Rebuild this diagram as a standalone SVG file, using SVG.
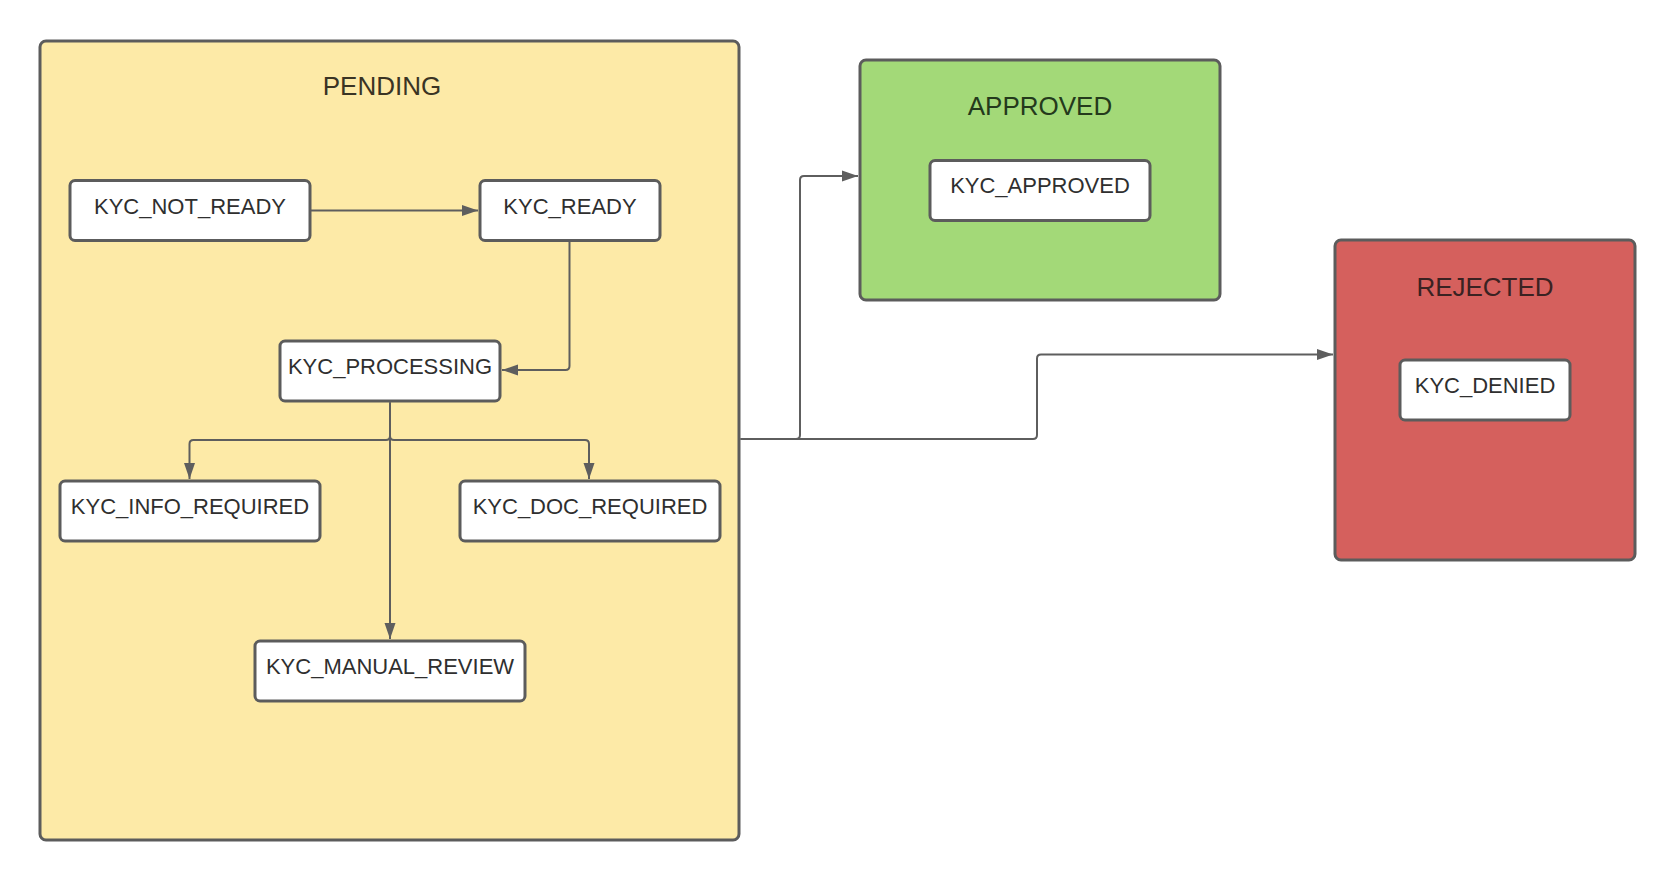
<svg xmlns="http://www.w3.org/2000/svg" width="1675" height="880" viewBox="0 0 1675 880">
<defs>
<marker id="arr" markerUnits="userSpaceOnUse" markerWidth="18" markerHeight="14" viewBox="0 0 18 14" refX="17" refY="7" orient="auto">
<path d="M1,1.5 L17,7 L1,12.5 Z" fill="#5e5e5e"/>
</marker>
<style>
.grp{stroke:#5c5c5c;stroke-width:3}
.node{fill:#ffffff;stroke:#5c5c5c;stroke-width:3}
.lbl{font-family:"Liberation Sans",Arial,sans-serif;font-size:22px;fill:#2f2f2f;text-anchor:middle}
.title{font-family:"Liberation Sans",Arial,sans-serif;font-size:26px;text-anchor:middle}
.conn{fill:none;stroke:#5e5e5e;stroke-width:2}
</style>
</defs>
<rect width="1675" height="880" fill="#ffffff"/>

<g id="pending">
<rect class="grp" x="40" y="41" width="699" height="799" rx="6" fill="#fdeaa7"/>
<text class="title" x="382" y="95" fill="#3a3424">PENDING</text>
</g>
<g id="approved">
<rect class="grp" x="860" y="60" width="360" height="240" rx="6" fill="#a3d978"/>
<text class="title" x="1040" y="115" fill="#243a1c">APPROVED</text>
</g>
<g id="rejected">
<rect class="grp" x="1335" y="240" width="300" height="320" rx="6" fill="#d5605d"/>
<text class="title" x="1485" y="296" fill="#3a2222">REJECTED</text>
</g>

<g id="kyc_not_ready">
<rect class="node" x="70" y="180.5" width="240" height="60" rx="5"/>
<text class="lbl" x="190" y="213.5">KYC_NOT_READY</text>
</g>
<g id="kyc_ready">
<rect class="node" x="480" y="180.5" width="180" height="60" rx="5"/>
<text class="lbl" x="570" y="213.5">KYC_READY</text>
</g>
<g id="kyc_processing">
<rect class="node" x="280" y="341" width="220" height="60" rx="5"/>
<text class="lbl" x="390" y="374">KYC_PROCESSING</text>
</g>
<g id="kyc_info_required">
<rect class="node" x="60" y="481" width="260" height="60" rx="5"/>
<text class="lbl" x="190" y="514">KYC_INFO_REQUIRED</text>
</g>
<g id="kyc_doc_required">
<rect class="node" x="460" y="481" width="260" height="60" rx="5"/>
<text class="lbl" x="590" y="514">KYC_DOC_REQUIRED</text>
</g>
<g id="kyc_manual_review">
<rect class="node" x="255" y="641" width="270" height="60" rx="5"/>
<text class="lbl" x="390" y="674">KYC_MANUAL_REVIEW</text>
</g>
<g id="kyc_approved">
<rect class="node" x="930" y="160.5" width="220" height="60" rx="5"/>
<text class="lbl" x="1040" y="193">KYC_APPROVED</text>
</g>
<g id="kyc_denied">
<rect class="node" x="1400" y="360" width="170" height="60" rx="5"/>
<text class="lbl" x="1485" y="393">KYC_DENIED</text>
</g>

<g id="connectors">
<path class="conn" d="M311,210.5 H478" marker-end="url(#arr)"/>
<path class="conn" d="M569.5,242 V366 Q569.5,370 565.5,370 H502" marker-end="url(#arr)"/>
<path class="conn" d="M390,402.5 V639" marker-end="url(#arr)"/>
<path class="conn" d="M390,402.5 V436 Q390,440 386,440 H193.5 Q189.5,440 189.5,444 V479" marker-end="url(#arr)"/>
<path class="conn" d="M390,402.5 V436 Q390,440 394,440 H585 Q589,440 589,444 V479" marker-end="url(#arr)"/>
<path class="conn" d="M740.5,439 H796 Q800,439 800,435 V180 Q800,176 804,176 H858" marker-end="url(#arr)"/>
<path class="conn" d="M740.5,439 H1033 Q1037,439 1037,435 V358.5 Q1037,354.5 1041,354.5 H1333" marker-end="url(#arr)"/>
</g>
</svg>
